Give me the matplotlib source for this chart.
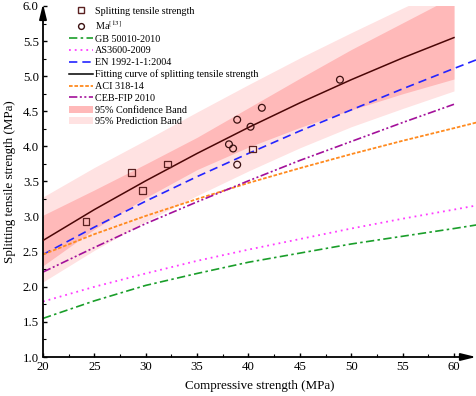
import numpy as np
import matplotlib
matplotlib.use("Agg")
import matplotlib.pyplot as plt
from matplotlib.patches import Patch
from matplotlib.lines import Line2D

plt.rcParams["font.family"] = ["Liberation Serif", "DejaVu Serif"]
plt.rcParams["mathtext.fontset"] = "stix"

# test data
sq_x = [24.2, 28.6, 29.7, 32.1, 40.4]
sq_y = [2.93, 3.63, 3.37, 3.75, 3.96]
ma_x = [38.1, 38.5, 38.9, 38.9, 40.2, 41.3, 48.9]
ma_y = [4.03, 3.97, 3.74, 4.38, 4.28, 4.55, 4.95]

# fitting curve + bands (read at these strengths)
fc_fit = [20, 25, 30, 35, 40, 45, 50, 55, 60]
fit = [2.66, 3.10, 3.51, 3.90, 4.27, 4.62, 4.95, 5.26, 5.55]
cb_lo = [2.30, 2.82, 3.27, 3.67, 3.99, 4.27, 4.52, 4.75, 4.96]
cb_hi = [3.02, 3.38, 3.75, 4.13, 4.55, 4.97, 5.38, 5.76, 6.14]
pb_lo = [2.07, 2.52, 2.93, 3.30, 3.65, 3.98, 4.28, 4.54, 4.79]
pb_hi = [3.28, 3.70, 4.09, 4.49, 4.88, 5.26, 5.62, 5.97, 6.31]

# code predictions
fc_code = [20, 25, 30, 35, 40, 45, 50, 55, 60, 63]
gb = [1.55, 1.80, 2.02, 2.19, 2.35, 2.48, 2.61, 2.72, 2.83, 2.90]
as3600 = [1.79, 2.00, 2.19, 2.37, 2.53, 2.68, 2.83, 2.97, 3.10, 3.18]
en = [2.46, 2.85, 3.22, 3.57, 3.90, 4.22, 4.52, 4.82, 5.11, 5.28]
aci = [2.46, 2.75, 3.01, 3.25, 3.48, 3.69, 3.89, 4.08, 4.26, 4.37]
fc_ceb = [20, 25, 30, 35, 40, 45, 50, 55, 60]
ceb = [2.21, 2.56, 2.90, 3.21, 3.51, 3.80, 4.07, 4.34, 4.60]

W, H = 477, 396
fig = plt.figure(figsize=(W / 100, H / 100), dpi=100)
ax = fig.add_axes([43 / W, 1 - 357 / H, 1 - 43 / W, (357 - 6) / H])
ax.set_xlim(20, 62.24)
ax.set_ylim(1.0, 6.0)

ax.fill_between(fc_fit, pb_lo, pb_hi, color="#ffe2e2", lw=0, zorder=1)
ax.fill_between(fc_fit, cb_lo, cb_hi, color="#ffb9b9", lw=0, zorder=2)

ax.plot(fc_code, gb, color="#1a9e2a", lw=1.2, ls=(0, (5, 2, 1.5, 2)), zorder=3)
ax.plot(fc_code, as3600, color="#ff3cff", lw=1.3, ls=(0, (1, 2.2)), zorder=3)
ax.plot(fc_code, en, color="#2424ff", lw=1.2, ls=(0, (5, 3)), zorder=3)
ax.plot(fc_fit, fit, color="#4a0606", lw=1.1, zorder=4)
ax.plot(fc_code, aci, color="#ff8a1e", lw=1.3, ls=(0, (2, 1)), zorder=3)
ax.plot(fc_ceb, ceb, color="#a3109a", lw=1.2,
        ls=(0, (5, 1.5, 1.2, 1.5, 1.2, 1.5)), zorder=3)

ax.scatter(sq_x, sq_y, marker="s", s=22, facecolors="none",
           edgecolors="#5a2020", linewidths=0.9, zorder=5)
ax.scatter(ma_x, ma_y, marker="o", s=24, facecolors="none",
           edgecolors="#3a1010", linewidths=0.9, zorder=5)

# axes with arrow heads, ticks pointing inward
for s in ax.spines.values():
    s.set_visible(False)
ax.annotate("", xy=(62.15, 1.0), xytext=(20, 1.0),
            arrowprops=dict(arrowstyle="-|>,head_length=0.9,head_width=0.22",
                            color="black", lw=1.3, shrinkA=0, shrinkB=0),
            annotation_clip=False)
ax.annotate("", xy=(20, 6.03), xytext=(20, 1.0),
            arrowprops=dict(arrowstyle="-|>,head_length=0.9,head_width=0.22",
                            color="black", lw=1.3, shrinkA=0, shrinkB=0),
            annotation_clip=False)

ax.set_xticks(np.arange(20, 61, 5))
ax.set_xticks(np.arange(22.5, 61, 5), minor=True)
ax.set_yticks(np.arange(1.0, 6.01, 0.5))
ax.set_yticks(np.arange(1.25, 6.0, 0.5), minor=True)
ax.set_yticklabels([f"{v:.1f}" for v in np.arange(1.0, 6.01, 0.5)])
ax.tick_params(which="major", direction="in", length=3, width=1, labelsize=9.2,
               pad=3)
ax.tick_params(which="minor", direction="in", length=2, width=0.8)

ax.set_xlabel("Compressive strength (MPa)", fontsize=9.4, labelpad=5)
ax.set_ylabel("Splitting tensile strength (MPa)", fontsize=9.4, labelpad=5)

handles = [
    Line2D([0], [0], marker="s", ls="", mfc="none", mec="#5a2020", ms=4.2),
    Line2D([0], [0], marker="o", ls="", mfc="none", mec="#3a1010", ms=4.2),
    Line2D([0], [0], color="#1a9e2a", lw=1.2, ls=(0, (5, 2, 1.5, 2))),
    Line2D([0], [0], color="#ff3cff", lw=1.3, ls=(0, (1, 2.2))),
    Line2D([0], [0], color="#2424ff", lw=1.2, ls=(0, (5, 3))),
    Line2D([0], [0], color="black", lw=1.1),
    Line2D([0], [0], color="#ff8a1e", lw=1.3, ls=(0, (2, 1))),
    Line2D([0], [0], color="#a3109a", lw=1.2, ls=(0, (5, 1.5, 1.2, 1.5, 1.2, 1.5))),
    Patch(fc="#ffb9b9", ec="none"),
    Patch(fc="#ffe2e2", ec="none"),
]
labels = ["Splitting tensile strength", "Ma$^{[13]}$", "GB 50010-2010",
          "AS3600-2009", "EN 1992-1-1:2004",
          "Fitting curve of splitting tensile strength", "ACI 318-14",
          "CEB-FIP 2010", "95% Confidence Band", "95% Prediction Band"]
ax.legend(handles, labels, loc="upper left", bbox_to_anchor=(0.05, 1.01),
          frameon=False, fontsize=7.3, handlelength=2.4, handletextpad=0.2,
          labelspacing=0.26, borderaxespad=0)

fig.savefig("out.png", dpi=100)
